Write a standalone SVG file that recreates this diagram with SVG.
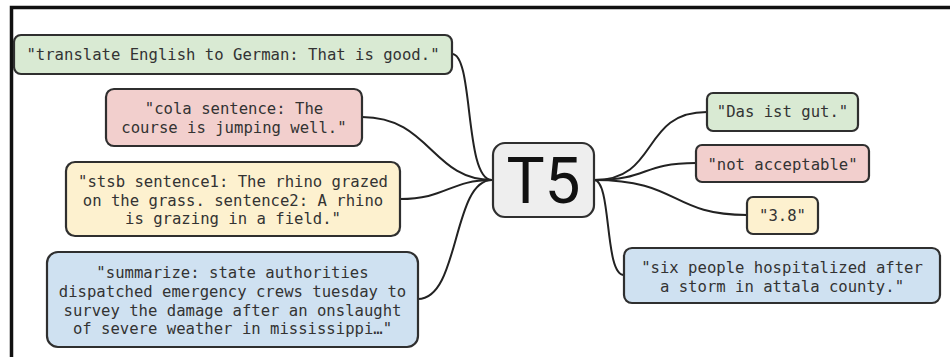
<svg xmlns="http://www.w3.org/2000/svg" width="950" height="357" viewBox="0 0 950 357">
<style>
.box{stroke:#2f2f2f;stroke-width:2.2}
.g{fill:#d9ead3}.r{fill:#f2cfcd}.y{fill:#fdf1cf}.b{fill:#cfe1f1}.c{fill:#eeeeee}
.t{font-family:"DejaVu Sans Mono","Liberation Mono",monospace;font-size:15.6px;fill:#333;text-anchor:middle}
.big{font-family:Roboto,"Liberation Sans",sans-serif;font-size:64px;fill:#111;text-anchor:middle}
.con path{fill:none;stroke:#222;stroke-width:2}
</style>
<rect x="0" y="0" width="950" height="357" fill="#ffffff"/>
<g id="frame" fill="none" stroke="#111" stroke-width="3.5">
<path d="M950 7.5 H11.5 V357"/>
</g>
<g class="con" id="connectors">
<path d="M452 54 C474 54 464 180 492 180"/>
<path d="M362 117 C430 117 432 180 492 180"/>
<path d="M400 199 C446 199 450 180 492 180"/>
<path d="M418 299 C460 299 452 180 492 180"/>
<path d="M594 180 C660 180 640 112 707 112"/>
<path d="M594 180 C650 180 640 163 696 163"/>
<path d="M594 180 C680 180 670 215 747 215"/>
<path d="M594 180 C612 180 604 275 624 275"/>
</g>
<g id="n-translate">
<rect class="box g" x="14" y="35" width="438" height="39" rx="7"/>
<text class="t" x="233" y="60">"translate English to German: That is good."</text>
</g>
<g id="n-cola">
<rect class="box r" x="106" y="89" width="256" height="57" rx="8"/>
<text class="t" x="234" y="114">"cola sentence: The</text>
<text class="t" x="234" y="133">course is jumping well."</text>
</g>
<g id="n-stsb">
<rect class="box y" x="66" y="162" width="334" height="74" rx="9"/>
<text class="t" x="233" y="187">"stsb sentence1: The rhino grazed</text>
<text class="t" x="233" y="205.5">on the grass. sentence2: A rhino</text>
<text class="t" x="233" y="224">is grazing in a field."</text>
</g>
<g id="n-summarize">
<rect class="box b" x="47" y="252" width="371" height="95" rx="11"/>
<text class="t" x="232.5" y="277.5">"summarize: state authorities</text>
<text class="t" x="232.5" y="296.5">dispatched emergency crews tuesday to</text>
<text class="t" x="232.5" y="315.5">survey the damage after an onslaught</text>
<text class="t" x="232.5" y="334">of severe weather in mississippi…"</text>
</g>
<g id="n-t5">
<rect class="box c" x="493" y="143" width="101" height="74" rx="12" stroke-width="3"/>
<text class="big" x="543.5" y="203">T5</text>
</g>
<g id="n-das">
<rect class="box g" x="707" y="93" width="151" height="38" rx="6"/>
<text class="t" x="782.5" y="117">"Das ist gut."</text>
</g>
<g id="n-not">
<rect class="box r" x="696" y="145" width="173" height="37" rx="6"/>
<text class="t" x="782.5" y="170">"not acceptable"</text>
</g>
<g id="n-38">
<rect class="box y" x="747" y="197" width="71" height="37" rx="6"/>
<text class="t" x="782.5" y="221">"3.8"</text>
</g>
<g id="n-six">
<rect class="box b" x="624" y="248" width="316" height="55" rx="8"/>
<text class="t" x="782" y="273">"six people hospitalized after</text>
<text class="t" x="782" y="292">a storm in attala county."</text>
</g>
</svg>
